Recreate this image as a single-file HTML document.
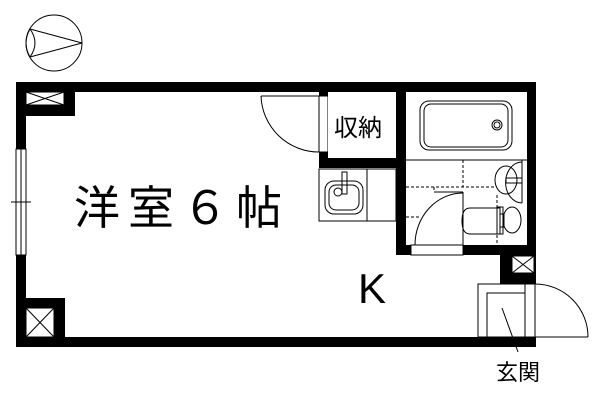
<!DOCTYPE html>
<html><head><meta charset="utf-8"><style>
html,body{margin:0;padding:0;background:#fff;width:600px;height:400px;overflow:hidden}
</style></head><body>
<svg width="600" height="400" viewBox="0 0 600 400" xmlns="http://www.w3.org/2000/svg" font-family="'Liberation Sans','Noto Sans CJK JP',sans-serif">
<rect width="600" height="400" fill="#fff"/>
<g fill="none" stroke="#000" stroke-width="1">
<circle cx="54" cy="43" r="28"/>
<path d="M30 29 Q40 43 30 57 Q22 43 30 29"/>
<line x1="30" y1="29" x2="82" y2="43"/><line x1="30" y1="57" x2="82" y2="43"/>
</g>
<g fill="#000">
<rect x="16" y="82" width="520" height="10"/>
<rect x="16" y="82" width="10" height="67"/>
<rect x="16" y="255" width="10" height="92"/>
<rect x="16" y="337" width="520" height="10"/>
<rect x="26" y="92" width="49" height="24"/>
<rect x="26" y="298" width="39" height="39"/>
<rect x="319" y="92" width="9" height="76"/>
<rect x="319" y="158" width="77" height="10"/>
<rect x="396" y="92" width="10" height="163"/>
<rect x="527" y="92" width="9" height="192"/>
<rect x="396" y="245" width="140" height="10"/>
<rect x="500" y="255" width="36" height="29"/>
</g>
<rect x="16" y="149" width="10" height="106" fill="#fff" stroke="#000"/>
<line x1="21" y1="149" x2="21" y2="255" stroke="#000"/>
<line x1="11" y1="202" x2="31" y2="202" stroke="#000"/>
<g fill="#fff" stroke="#000">
<rect x="26" y="92" width="38" height="13"/>
<path d="M26 92 L64 105 M64 92 L26 105"/>
<rect x="26" y="308" width="28" height="29"/>
<path d="M26 308 L54 337 M54 308 L26 337"/>
<rect x="512" y="256" width="22" height="17"/>
<path d="M512 256 L534 273 M534 256 L512 273"/>
</g>
<rect x="319" y="96" width="9" height="56" fill="#fff" stroke="#000"/>
<path d="M261 96 A58 58 0 0 0 319 152" fill="none" stroke="#000"/>
<line x1="261" y1="96" x2="319" y2="96" stroke="#000"/>
<rect x="328" y="92" width="68" height="66" fill="#fff"/>
<g fill="none" stroke="#000">
<rect x="319" y="169" width="77" height="52"/>
<line x1="367" y1="169" x2="367" y2="221"/>
<rect x="325" y="181" width="38" height="33" rx="9"/>
<rect x="329" y="185" width="30" height="25" rx="7"/>
<circle cx="338" cy="192" r="4"/>
<rect x="342" y="172" width="5" height="22"/>
</g>
<g fill="none" stroke="#000">
<rect x="420" y="101" width="92" height="49" rx="9"/>
<rect x="424" y="104" width="84" height="43" rx="7"/>
<circle cx="497" cy="125" r="5"/><circle cx="497" cy="125" r="3"/>
<line x1="406" y1="160" x2="527" y2="160"/>
<g stroke-dasharray="3,2">
<line x1="463" y1="160" x2="463" y2="187"/>
<line x1="406" y1="187" x2="495" y2="187"/>
<line x1="434" y1="187" x2="434" y2="192"/>
<line x1="406" y1="217" x2="420" y2="217"/>
<line x1="497" y1="195" x2="497" y2="245"/>
</g>
<line x1="463" y1="192" x2="463" y2="245"/>
<line x1="434" y1="192" x2="463" y2="192"/>
<path d="M463 193 A48 52 0 0 0 415 245"/>
<path d="M522 162 A16 20 0 0 0 522 203"/>
<line x1="522" y1="160" x2="522" y2="203"/>
<ellipse cx="506" cy="180" rx="11" ry="14"/>
<rect x="506" y="178" width="16" height="5"/>
<path d="M500 208 L470 208 Q462 208 462 221 Q462 234 470 234 L500 234 Z"/>
<rect x="497" y="207" width="6" height="27"/>
<rect x="500" y="214" width="4" height="13"/>
<ellipse cx="512" cy="220" rx="9" ry="13"/>
</g>
<rect x="411" y="245" width="52" height="10" fill="#fff" stroke="#000"/>
<g fill="none" stroke="#000">
<rect x="478" y="284" width="57" height="53" fill="#fff"/>
<rect x="487" y="293" width="38" height="44"/>
<line x1="525" y1="284" x2="525" y2="337"/>
<path d="M535 284 A53 53 0 0 1 588 337"/>
<line x1="535" y1="337" x2="588" y2="337"/>
<line x1="502" y1="308" x2="518" y2="352"/>
</g>
<text x="74" y="224" font-size="46" letter-spacing="8">洋室６帖</text>
<text x="334" y="136" font-size="24">収納</text>
<text x="358" y="303" font-size="42">K</text>
<text x="496" y="380" font-size="22">玄関</text>
</svg>
</body></html>
